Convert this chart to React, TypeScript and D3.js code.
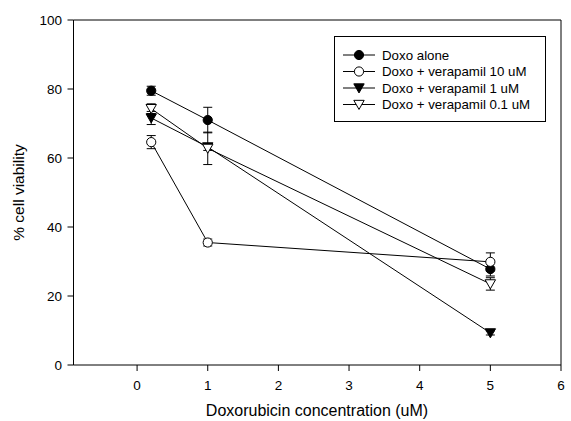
import React from "react";
import * as d3 from "d3";

const conc = [0.2, 1, 5];
const seriesNames = [
  "Doxo alone",
  "Doxo + verapamil 10 uM",
  "Doxo + verapamil 1 uM",
  "Doxo + verapamil 0.1 uM",
];
const aloneVals = [79.5, 71.0, 27.8];
const aloneErr = [1.3, 3.7, 2.0];
const v10Vals = [64.6, 35.5, 29.9];
const v10Err = [1.9, 1.0, 2.6];
const v1Vals = [71.6, 63.2, 9.3];
const v1Err = [1.9, 1.0, 0.6];
const v01Vals = [74.3, 62.8, 23.5];
const v01Err = [1.4, 4.7, 1.8];
const xTicks = [0, 1, 2, 3, 4, 5, 6];
const yTicks = [0, 20, 40, 60, 80, 100];

type Sym = "circleFilled" | "circleOpen" | "triFilled" | "triOpen";
const series: { name: string; vals: number[]; err: number[]; sym: Sym }[] = [
  { name: seriesNames[0], vals: aloneVals, err: aloneErr, sym: "circleFilled" },
  { name: seriesNames[1], vals: v10Vals, err: v10Err, sym: "circleOpen" },
  { name: seriesNames[2], vals: v1Vals, err: v1Err, sym: "triFilled" },
  { name: seriesNames[3], vals: v01Vals, err: v01Err, sym: "triOpen" },
];

const W = 571;
const H = 421;
const x = d3.scaleLinear().domain([-0.9, 6]).range([73.5, 561]);
const y = d3.scaleLinear().domain([0, 100]).range([365, 20]);
const font = "'Liberation Sans', Arial, sans-serif";

function Marker({ cx, cy, sym }: { cx: number; cy: number; sym: Sym }) {
  if (sym === "circleFilled" || sym === "circleOpen") {
    return (
      <circle
        cx={cx}
        cy={cy}
        r={4.6}
        fill={sym === "circleFilled" ? "#000" : "#fff"}
        stroke="#000"
        strokeWidth={1}
      />
    );
  }
  const s = 5.2;
  const p = `M${cx - s},${cy - s * 0.8}L${cx + s},${cy - s * 0.8}L${cx},${cy + s * 0.95}Z`;
  return (
    <path d={p} fill={sym === "triFilled" ? "#000" : "#fff"} stroke="#000" strokeWidth={1} />
  );
}

export default function App() {
  const line = d3
    .line<number>()
    .x((_, i) => x(conc[i]))
    .y((v) => y(v));
  return (
    <svg
      width={W}
      height={H}
      style={{ position: "absolute", left: 0, top: 0, background: "#fff" }}
      fontFamily={font}
    >
      <rect x={0} y={0} width={W} height={H} fill="#fff" />
      {/* frame */}
      <line x1={x(-0.9)} x2={x(6)} y1={y(100)} y2={y(100)} stroke="#000" strokeWidth={1} />
      <line x1={x(6)} x2={x(6)} y1={y(100)} y2={y(0)} stroke="#000" strokeWidth={1} />
      <line x1={x(-0.9)} x2={x(-0.9)} y1={y(100)} y2={y(0)} stroke="#000" strokeWidth={1} />
      <line x1={x(-0.9)} x2={x(6)} y1={y(0)} y2={y(0)} stroke="#000" strokeWidth={1} />
      {/* y ticks */}
      {yTicks.map((t) => (
        <g key={"y" + t}>
          <line x1={x(-0.9) - 6} x2={x(-0.9)} y1={y(t)} y2={y(t)} stroke="#000" />
          <text x={62} y={y(t)} dy="0.35em" textAnchor="end" fontSize={13.5}>
            {t}
          </text>
        </g>
      ))}
      {/* x ticks */}
      {xTicks.map((t) => (
        <g key={"x" + t}>
          <line x1={x(t)} x2={x(t)} y1={y(0)} y2={y(0) + 6} stroke="#000" />
          <text x={x(t)} y={385} dy="0.35em" textAnchor="middle" fontSize={13.5}>
            {t}
          </text>
        </g>
      ))}
      <text x={317} y={410} dy="0.35em" textAnchor="middle" fontSize={16}>
        Doxorubicin concentration (uM)
      </text>
      <text
        transform={`translate(19,${y(50)}) rotate(-90)`}
        dy="0.35em"
        textAnchor="middle"
        fontSize={15.5}
      >
        % cell viability
      </text>
      {/* series */}
      {series.map((s) => (
        <g key={s.name}>
          <path d={line(s.vals) || ""} fill="none" stroke="#000" strokeWidth={1} />
          {s.vals.map((v, i) => {
            const cx = x(conc[i]);
            const e = s.err[i];
            return (
              <g key={i}>
                <line x1={cx} x2={cx} y1={y(v + e)} y2={y(v - e)} stroke="#000" />
                <line x1={cx - 4.5} x2={cx + 4.5} y1={y(v + e)} y2={y(v + e)} stroke="#000" />
                <line x1={cx - 4.5} x2={cx + 4.5} y1={y(v - e)} y2={y(v - e)} stroke="#000" />
              </g>
            );
          })}
          {s.vals.map((v, i) => (
            <Marker key={"m" + i} cx={x(conc[i])} cy={y(v)} sym={s.sym} />
          ))}
        </g>
      ))}
      {/* legend */}
      <rect x={334.5} y={36.5} width={211} height={85} fill="#fff" stroke="#000" strokeWidth={1} />
      {series.map((s, i) => {
        const ly = 55 + i * 16.5;
        return (
          <g key={"lg" + i}>
            <line x1={343} x2={375} y1={ly} y2={ly} stroke="#000" />
            <Marker cx={359} cy={ly} sym={s.sym} />
            <text x={382} y={ly} dy="0.35em" fontSize={13.3}>
              {s.name}
            </text>
          </g>
        );
      })}
    </svg>
  );
}
